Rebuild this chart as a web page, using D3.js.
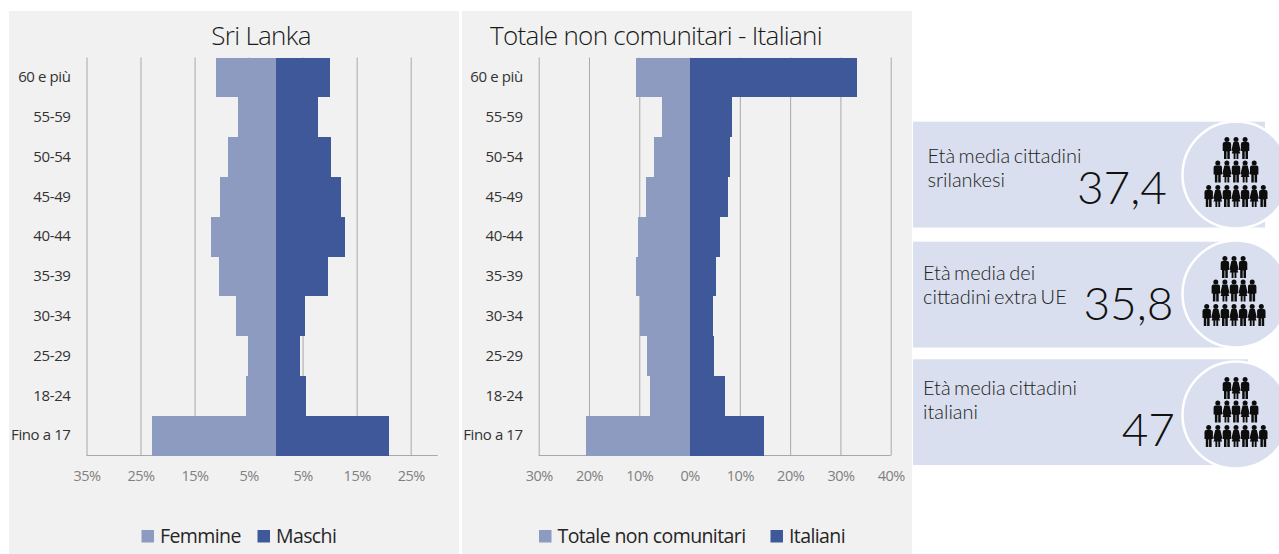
<!DOCTYPE html>
<html>
<head>
<meta charset="utf-8">
<script src="https://cdn.jsdelivr.net/npm/d3@7"></script>
<style>
  html, body { margin: 0; background: #fff; }
  svg { display: block; }
  text { font-family: "Open Sans", "Noto Sans", sans-serif; }
</style>
</head>
<body>
<svg id="chart" width="1279" height="554"></svg>
<script>
// Age groups, top to bottom
const ageGroups = ["60 e più", "55-59", "50-54", "45-49", "40-44", "35-39", "30-34", "25-29", "18-24", "Fino a 17"];

// Sri Lanka (%)
const femmine = [11.0, 6.9, 8.9, 10.2, 12.0, 10.4, 7.4, 5.1, 5.4, 22.8];
const maschi = [10.0, 7.9, 10.3, 12.1, 12.9, 9.7, 5.5, 4.5, 5.7, 20.9];

// Non EU total vs Italians (%)
const nonComunitari = [10.7, 5.5, 7.1, 8.75, 10.3, 10.7, 9.9, 8.5, 7.9, 20.6];
const italiani = [33.2, 8.4, 8.1, 7.55, 6.0, 5.2, 4.6, 4.8, 7.0, 14.9];

const leftTicks = [-35, -25, -15, -5, 5, 15, 25];
const rightTicks = [-30, -20, -10, 0, 10, 20, 30, 40];

const cardLines = [
  ["Età media cittadini", "srilankesi"],
  ["Età media dei", "cittadini extra UE"],
  ["Età media cittadini", "italiani"]
];
const cardValues = ["37,4", "35,8", "47"];

const LIGHT = "#8e9bc0";
const DARK = "#3f5899";
const CARD = "#d9dfee";
const GRID = "#a8a8a8";

const svg = d3.select("#chart");

function drawPyramid(opts) {
  const g = svg.append("g");

  g.append("rect")
    .attr("x", opts.panel[0]).attr("y", 11)
    .attr("width", opts.panel[1] - opts.panel[0]).attr("height", 543)
    .attr("fill", "#f1f1f1");

  const x = d3.scaleLinear().domain(opts.domain).range(opts.range);
  const y = d3.scaleBand().domain(ageGroups).range([57.5, 455.5]);

  // Gridlines come from the bottom axis ticks
  const xAxis = d3.axisBottom(x)
    .tickValues(opts.ticks)
    .tickSize(-(y.range()[1] - y.range()[0]))
    .tickPadding(15)
    .tickFormat(d => Math.abs(d) + "%");

  const xg = g.append("g").attr("transform", `translate(0,${y.range()[1]})`).call(xAxis);
  xg.selectAll(".tick line").attr("stroke", GRID);
  xg.select(".domain").attr("stroke", GRID).attr("d", `M${opts.range[0]},0H${opts.range[1]}`);
  xg.selectAll("text")
    .attr("font-size", 14.5).attr("fill", "#808080").attr("letter-spacing", -0.5)
    .style("font-family", '"Open Sans", sans-serif');

  g.append("g").selectAll("rect").data(ageGroups).enter().append("rect")
    .attr("x", (d, i) => x(-opts.leftValues[i]))
    .attr("y", d => y(d))
    .attr("width", (d, i) => x(0) - x(-opts.leftValues[i]))
    .attr("height", y.bandwidth())
    .attr("fill", LIGHT)
    .attr("shape-rendering", "crispEdges");

  g.append("g").selectAll("rect").data(ageGroups).enter().append("rect")
    .attr("x", x(0))
    .attr("y", d => y(d))
    .attr("width", (d, i) => x(opts.rightValues[i]) - x(0))
    .attr("height", y.bandwidth())
    .attr("fill", DARK)
    .attr("shape-rendering", "crispEdges");

  const yAxis = d3.axisLeft(y).tickSize(0).tickPadding(16);
  const yg = g.append("g").attr("transform", `translate(${opts.range[0]},0)`).call(yAxis);
  yg.select(".domain").remove();
  yg.selectAll("text")
    .attr("font-size", 15).attr("fill", "#333").attr("letter-spacing", -0.4)
    .style("font-family", '"Open Sans", sans-serif');

  g.append("text")
    .attr("x", opts.titleX).attr("y", 45)
    .attr("text-anchor", "middle")
    .attr("font-size", 26).attr("font-weight", 300).attr("fill", "#1a1a1a")
    .attr("letter-spacing", -0.7)
    .text(opts.title);

  // Legend
  opts.legend.forEach(l => {
    g.append("rect").attr("x", l.x).attr("y", 530).attr("width", 12.5).attr("height", 12.5).attr("fill", l.color);
    g.append("text").attr("x", l.x + 18.5).attr("y", 542.5)
      .attr("font-size", 19.5).attr("fill", "#262626").attr("letter-spacing", -0.6).text(l.name);
  });
}

drawPyramid({
  panel: [9, 459],
  domain: [-35, 30],
  range: [86.5, 437.7],
  ticks: leftTicks,
  leftValues: femmine,
  rightValues: maschi,
  title: "Sri Lanka",
  titleX: 261,
  legend: [
    { x: 141.5, name: "Femmine", color: LIGHT },
    { x: 257.5, name: "Maschi", color: DARK }
  ]
});

drawPyramid({
  panel: [462, 912],
  domain: [-30, 40],
  range: [538.7, 890.7],
  ticks: rightTicks,
  leftValues: nonComunitari,
  rightValues: italiani,
  title: "Totale non comunitari - Italiani",
  titleX: 656,
  legend: [
    { x: 539, name: "Totale non comunitari", color: LIGHT },
    { x: 770.5, name: "Italiani", color: DARK }
  ]
});

// Person pictogram, drawn around its own centre
const manPath = "M-4.2,-5 Q-4.2,-7 -2.4,-7 H2.4 Q4.2,-7 4.2,-5 V2 H2.9 V10 H0.4 V2.5 H-0.4 V10 H-2.9 V2 H-4.2 Z";
const womanPath = "M-2.6,-7 H2.6 L4.6,1.5 L3.4,2 L4.3,4.5 H2.4 V10 H0.5 V4.5 H-0.5 V10 H-2.4 V4.5 H-4.3 L-3.4,2 L-4.6,1.5 Z";

function drawPeople(parent, cx, cy) {
  const rows = [
    { n: 3, dy: -26 },
    { n: 5, dy: -2.5 },
    { n: 7, dy: 22 }
  ];
  rows.forEach(r => {
    d3.range(r.n).forEach(i => {
      const px = cx + (i - (r.n - 1) / 2) * 9.1;
      const p = parent.append("g").attr("transform", `translate(${px},${cy + r.dy})`);
      p.append("circle").attr("cy", -9.4).attr("r", 2.5).attr("fill", "#0d0d0d");
      p.append("path").attr("d", i % 2 ? womanPath : manPath).attr("fill", "#0d0d0d");
    });
  });
}

// Side cards
const cardTop = [121.7, 241.7, 359.3];
const cardRight = [1265, 1240, 1248];
const circleY = [175, 294, 415];
const iconX = [1236, 1234, 1236];
const textX = [927.5, 923, 923];
const textY = [163, 280, 395];
const valueX = [1167, 1173.5, 1175];
const valueY = [204, 320, 446];

cardValues.forEach((value, i) => {
  const g = svg.append("g");
  g.append("rect")
    .attr("x", 913).attr("y", cardTop[i])
    .attr("width", cardRight[i] - 913).attr("height", 105.8)
    .attr("fill", CARD);
  g.append("circle")
    .attr("cx", 1236).attr("cy", circleY[i]).attr("r", 53.5)
    .attr("fill", CARD).attr("stroke", "#fff").attr("stroke-width", 2.5);
  cardLines[i].forEach((line, j) => {
    g.append("text")
      .attr("x", textX[i]).attr("y", textY[i] + j * 24)
      .attr("font-size", 20).attr("font-weight", 300).attr("fill", "#222")
      .attr("word-spacing", -2)
      .style("font-family", "Lato, sans-serif")
      .text(line);
  });
  g.append("text")
    .attr("x", valueX[i]).attr("y", valueY[i])
    .attr("text-anchor", "end")
    .attr("font-size", 46).attr("font-weight", 300).attr("fill", "#111")
    .style("font-family", "Lato, sans-serif")
    .text(value);
  drawPeople(g, iconX[i], circleY[i]);
});
</script>
</body>
</html>
